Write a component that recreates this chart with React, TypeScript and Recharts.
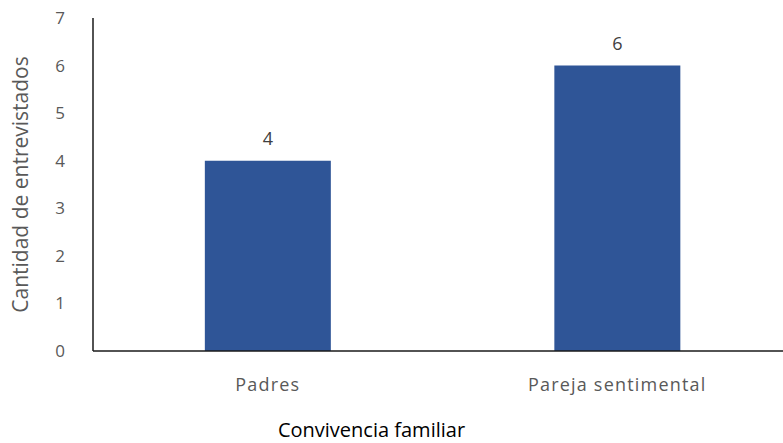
import { BarChart, Bar, XAxis, YAxis, LabelList } from 'recharts'

const CATEGORIES = ['Padres', 'Pareja sentimental']
const VALUES = [4, 6]
const Y_TICKS = [0, 1, 2, 3, 4, 5, 6, 7]

const data = CATEGORIES.map((name, i) => ({ name, value: VALUES[i] }))

const FONT = '"Open Sans", Lato, sans-serif'

export default function App() {
  return (
    <div style={{ position: 'absolute', left: 0, top: 0, width: 783, height: 443, overflow: 'hidden', background: '#fff', fontFamily: FONT }}>
      <BarChart
        width={792}
        height={443}
        data={data}
        margin={{ top: 18, right: 0, left: 0, bottom: 0 }}
        barCategoryGap="32%"
      >
        <XAxis
          dataKey="name"
          height={92}
          axisLine={{ stroke: '#1a1a1a', strokeWidth: 1.5 }}
          tickLine={false}
          tickMargin={21}
          tick={{ fill: '#595959', fontSize: 18, fontFamily: FONT, letterSpacing: 1.2 }}
          label={{ value: 'Convivencia familiar', position: 'insideBottom', offset: 6, dx: -71, fill: '#000', fontSize: 20, fontFamily: FONT }}
        />
        <YAxis
          domain={[0, 7]}
          ticks={Y_TICKS}
          width={93}
          axisLine={{ stroke: '#1a1a1a', strokeWidth: 1.5 }}
          tickLine={false}
          tickMargin={22}
          tick={{ fill: '#595959', fontSize: 17, fontFamily: FONT }}
          label={{ value: 'Cantidad de entrevistados', angle: -90, position: 'insideLeft', offset: 21, fill: '#595959', fontSize: 21, fontFamily: FONT, style: { textAnchor: 'middle' } }}
        />
        <Bar dataKey="value" fill="#2F5597" isAnimationActive={false}>
          <LabelList dataKey="value" position="top" offset={16} fill="#404040" fontSize={18} fontFamily={FONT} />
        </Bar>
      </BarChart>
    </div>
  )
}
